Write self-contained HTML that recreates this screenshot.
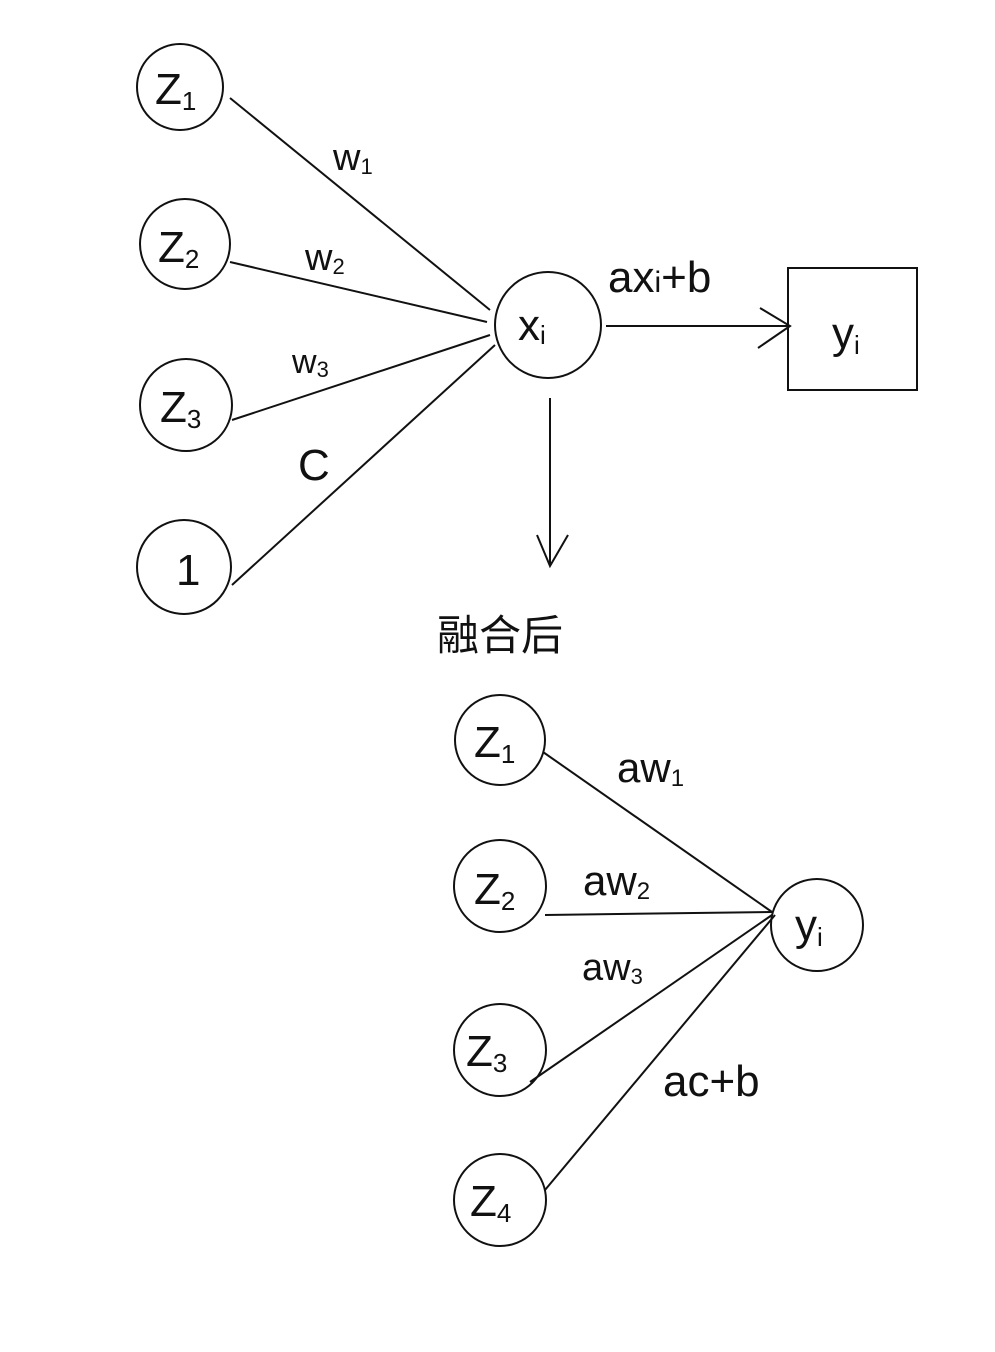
<!DOCTYPE html>
<html><head><meta charset="utf-8"><style>
html,body{margin:0;padding:0;background:#fff;width:995px;height:1352px;overflow:hidden}
svg text{font-family:"Liberation Sans","Noto Sans CJK SC",sans-serif;fill:#111}
</style></head><body>
<svg width="995" height="1352" viewBox="0 0 995 1352" xmlns="http://www.w3.org/2000/svg">
<g fill="none" stroke="#111" stroke-width="2">
<circle cx="180" cy="87" r="43"/>
<circle cx="185" cy="244" r="45"/>
<circle cx="186" cy="405" r="46"/>
<circle cx="184" cy="567" r="47"/>
<circle cx="548" cy="325" r="53"/>
<rect x="788" y="268" width="129" height="122"/>
<line x1="230" y1="98" x2="490" y2="310"/>
<line x1="230" y1="262" x2="487" y2="322"/>
<line x1="232" y1="420" x2="490" y2="335"/>
<line x1="232" y1="585" x2="495" y2="345"/>
<line x1="606" y1="326" x2="790" y2="326"/>
<polyline points="760,308 790,326 758,348"/>
<line x1="550" y1="398" x2="550" y2="565"/>
<polyline points="537,535 550,566 568,535"/>
<circle cx="500" cy="740" r="45"/>
<circle cx="500" cy="886" r="46"/>
<circle cx="500" cy="1050" r="46"/>
<circle cx="500" cy="1200" r="46"/>
<circle cx="817" cy="925" r="46"/>
<line x1="543" y1="752" x2="772" y2="912"/>
<line x1="545" y1="915" x2="772" y2="912"/>
<line x1="530" y1="1082" x2="772" y2="915"/>
<line x1="545" y1="1190" x2="775" y2="915"/>
</g>
<g font-size="44">
<text x="155" y="104">Z<tspan font-size="26" dy="6">1</tspan></text>
<text x="158" y="262">Z<tspan font-size="26" dy="6">2</tspan></text>
<text x="160" y="422">Z<tspan font-size="26" dy="6">3</tspan></text>
<text x="176" y="585">1</text>
<text x="518" y="340">x<tspan font-size="26" dy="4">i</tspan></text>
<text x="832" y="348">y<tspan font-size="26" dy="6">i</tspan></text>
<text x="333" y="170" font-size="38">w<tspan font-size="22" dy="4">1</tspan></text>
<text x="305" y="270" font-size="38">w<tspan font-size="22" dy="4">2</tspan></text>
<text x="292" y="373" font-size="34">w<tspan font-size="22" dy="4">3</tspan></text>
<text x="298" y="480" font-size="44">C</text>
<text x="608" y="292" font-size="44">ax<tspan font-size="30">i</tspan>+b</text>
<text x="437" y="650" font-size="42">融合后</text>
<text x="474" y="757">Z<tspan font-size="26" dy="6">1</tspan></text>
<text x="474" y="904">Z<tspan font-size="26" dy="6">2</tspan></text>
<text x="466" y="1066">Z<tspan font-size="26" dy="6">3</tspan></text>
<text x="470" y="1216">Z<tspan font-size="26" dy="6">4</tspan></text>
<text x="795" y="940">y<tspan font-size="26" dy="6">i</tspan></text>
<text x="617" y="782" font-size="42">aw<tspan font-size="24" dy="4">1</tspan></text>
<text x="583" y="895" font-size="42">aw<tspan font-size="24" dy="4">2</tspan></text>
<text x="582" y="980" font-size="38">aw<tspan font-size="22" dy="4">3</tspan></text>
<text x="663" y="1096" font-size="44">ac+b</text>
</g>
</svg>
</body></html>
